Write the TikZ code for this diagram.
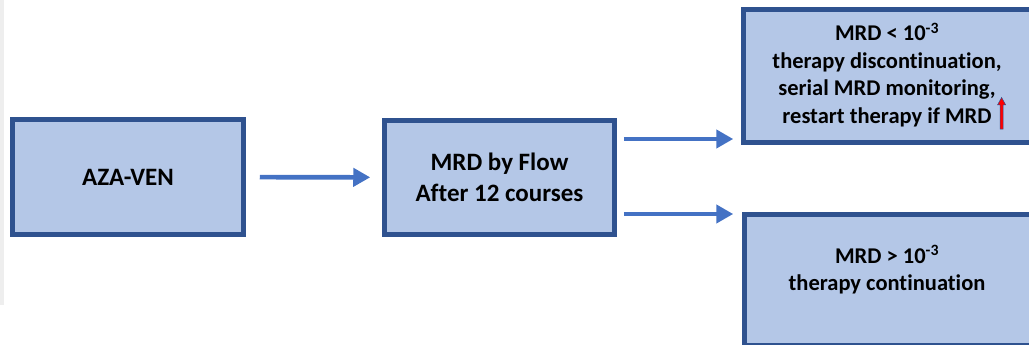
\documentclass[tikz,border=0pt]{standalone}
\usepackage{fontspec}
\setmainfont{Carlito}[Ligatures=NoCommon]
\usetikzlibrary{arrows.meta}

\definecolor{boxfill}{HTML}{B4C7E7}
\definecolor{boxline}{HTML}{2F528F}
\definecolor{flowblue}{HTML}{4472C4}
\definecolor{stripgrey}{HTML}{EEEEEE}
\definecolor{upred}{HTML}{FF0000}

\begin{document}
\begin{tikzpicture}[x=1pt, y=-1pt,
  stage/.style={draw=boxline, fill=boxfill, line width=4.5pt, inner sep=0pt},
  bigtext/.style={font=\bfseries\fontsize{25}{31.5}\selectfont, align=center},
  boxtext/.style={font=\bfseries\fontsize{22.5}{27.5}\selectfont, align=center, inner sep=0pt},
  conn/.style={draw=flowblue, line width=4.6pt, -{Triangle[length=17pt,width=18pt]}}
]
\useasboundingbox (0,0) rectangle (1029,345);
\clip (0,0) rectangle (1029,345);

% thin grey strip along the left edge
\fill[stripgrey] (0,0) rectangle (3.5,305);

% boxes
\node[stage, bigtext, minimum width=231pt, minimum height=115pt] (aza) at (128,177) {AZA-VEN};
\node[stage, bigtext, minimum width=230pt, minimum height=114pt] (flow) at (499.5,177.5) {MRD by Flow\\After 12 courses};
\node[stage, minimum width=300pt, minimum height=133pt] (low) at (893.5,76) {};
\node[stage, minimum width=300pt, minimum height=131pt] (high) at (894.5,280) {};

% outcome texts
\node[boxtext] (lowtxt) at (887,75) {MRD < 10\textsuperscript{-3}\\therapy discontinuation,\\serial MRD monitoring,\\restart therapy if MRD};
\node[boxtext] (hightxt) at (887,270) {MRD > 10\textsuperscript{-3}\\therapy continuation};

% small red "rising" arrow after MRD
\draw[fill=upred, draw=boxline, line width=0.5pt]
  (1000,129) -- (1000,105) -- (997.5,105) -- (1001.6,97.5) -- (1005.7,105)
  -- (1003.2,105) -- (1003.2,129) -- cycle;

% connectors
\coordinate (upper) at (0,139);
\coordinate (lower) at (0,214);
\draw[conn, shorten <=14pt, shorten >=12pt] (aza) -- (flow);
\draw[conn] ([xshift=7pt]flow.east |- upper) -- ([xshift=-8pt]low.west |- upper);
\draw[conn] ([xshift=7pt]flow.east |- lower) -- ([xshift=-9pt]high.west |- lower);
\end{tikzpicture}
\end{document}
